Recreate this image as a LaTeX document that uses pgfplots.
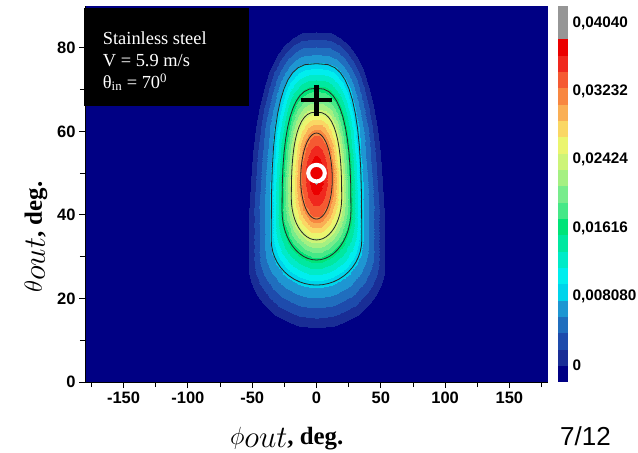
\documentclass[border=0pt]{standalone}
\usepackage{fontspec}
\setmainfont{Liberation Serif}
\newfontfamily\lsans{Liberation Sans}
\usepackage{graphicx}
\usepackage{pgfplots}
\pgfplotsset{compat=1.18}
\usepackage{pgfplotstable}

\definecolor{navybg}{RGB}{0,0,132}
\definecolor{cRed}{RGB}{235,0,0}
\pgfplotsset{colormap={origin}{
 rgb255=(0,0,132)
 rgb255=(25,45,150)
 rgb255=(30,75,172)
 rgb255=(32,110,190)
 rgb255=(30,150,210)
 rgb255=(0,212,235)
 rgb255=(0,238,238)
 rgb255=(0,235,200)
 rgb255=(0,232,160)
 rgb255=(0,228,120)
 rgb255=(70,232,135)
 rgb255=(120,236,140)
 rgb255=(165,240,130)
 rgb255=(205,244,120)
 rgb255=(235,245,110)
 rgb255=(250,215,100)
 rgb255=(250,175,85)
 rgb255=(248,135,65)
 rgb255=(245,90,50)
 rgb255=(240,40,30)
 rgb255=(235,0,0)
 rgb255=(150,150,150)
 rgb255=(150,150,150)
}}

% mesh: one row per direction (0,7.5,...,360 deg); columns: peak, 0.03232, 0.02424, 0.01616, 0.00808, 0
\pgfplotstableread{
x y z
0 49.5 0.0402
12.3 48.5 0.03232
19.6 44 0.02424
26.8 41 0.01616
35.2 34 0.00808
52.7 28 0
0 49.5 0.0402
12.19 49.95 0.03232
19.47 48.30 0.02424
26.62 47.12 0.01616
35.0 44.86 0.00808
52.35 39.66 0
0 49.5 0.0402
11.88 51.37 0.03232
19.08 51.28 0.02424
26.10 51.36 0.01616
34.39 51.14 0.00808
51.31 47.73 0
0 49.5 0.0402
11.36 52.75 0.03232
18.44 53.84 0.02424
25.22 55.0 0.01616
33.39 56.24 0.00808
49.59 54.66 0
0 49.5 0.0402
10.65 54.05 0.03232
17.55 56.09 0.02424
23.99 58.19 0.01616
31.98 60.59 0.00808
47.18 60.74 0
0 49.5 0.0402
9.76 55.26 0.03232
16.40 58.06 0.02424
22.43 61.0 0.01616
30.17 64.31 0.00808
44.11 66.10 0
0 49.5 0.0402
8.70 56.35 0.03232
15.02 59.78 0.02424
20.53 63.45 0.01616
27.94 67.49 0.00808
40.37 70.75 0
0 49.5 0.0402
7.49 57.31 0.03232
13.38 61.24 0.02424
18.30 65.52 0.01616
25.28 70.16 0.00808
35.98 74.70 0
0 49.5 0.0402
6.15 58.11 0.03232
11.50 62.44 0.02424
15.73 67.23 0.01616
22.18 72.34 0.00808
30.92 77.96 0
0 49.5 0.0402
4.71 58.76 0.03232
9.36 63.38 0.02424
12.80 68.57 0.01616
18.55 74.03 0.00808
25.18 80.50 0
0 49.5 0.0402
3.18 59.22 0.03232
6.93 64.06 0.02424
9.48 69.53 0.01616
14.29 75.23 0.00808
18.63 82.33 0
0 49.5 0.0402
1.61 59.50 0.03232
4.10 64.46 0.02424
5.60 70.11 0.01616
9.06 75.96 0.00808
11.01 83.43 0
0 49.5 0.0402
0 59.6 0.03232
0 64.6 0.02424
0 70.3 0.01616
0 76.2 0.00808
0 83.8 0
0 49.5 0.0402
-1.61 59.50 0.03232
-4.10 64.46 0.02424
-5.60 70.11 0.01616
-9.06 75.96 0.00808
-11.01 83.43 0
0 49.5 0.0402
-3.18 59.22 0.03232
-6.93 64.06 0.02424
-9.48 69.53 0.01616
-14.29 75.23 0.00808
-18.63 82.33 0
0 49.5 0.0402
-4.71 58.76 0.03232
-9.36 63.38 0.02424
-12.80 68.57 0.01616
-18.55 74.03 0.00808
-25.18 80.50 0
0 49.5 0.0402
-6.15 58.11 0.03232
-11.50 62.44 0.02424
-15.73 67.23 0.01616
-22.18 72.34 0.00808
-30.92 77.96 0
0 49.5 0.0402
-7.49 57.31 0.03232
-13.38 61.24 0.02424
-18.30 65.52 0.01616
-25.28 70.16 0.00808
-35.98 74.70 0
0 49.5 0.0402
-8.70 56.35 0.03232
-15.02 59.78 0.02424
-20.53 63.45 0.01616
-27.94 67.49 0.00808
-40.37 70.75 0
0 49.5 0.0402
-9.76 55.26 0.03232
-16.40 58.06 0.02424
-22.43 61.0 0.01616
-30.17 64.31 0.00808
-44.11 66.10 0
0 49.5 0.0402
-10.65 54.05 0.03232
-17.55 56.09 0.02424
-23.99 58.19 0.01616
-31.98 60.59 0.00808
-47.18 60.74 0
0 49.5 0.0402
-11.36 52.75 0.03232
-18.44 53.84 0.02424
-25.22 55.0 0.01616
-33.39 56.24 0.00808
-49.59 54.66 0
0 49.5 0.0402
-11.88 51.37 0.03232
-19.08 51.28 0.02424
-26.10 51.36 0.01616
-34.39 51.14 0.00808
-51.31 47.73 0
0 49.5 0.0402
-12.19 49.95 0.03232
-19.47 48.30 0.02424
-26.62 47.12 0.01616
-35.0 44.86 0.00808
-52.35 39.66 0
0 49.5 0.0402
-12.3 48.5 0.03232
-19.6 44 0.02424
-26.8 41 0.01616
-35.2 34 0.00808
-52.7 28 0
0 49.5 0.0402
-12.19 47.26 0.03232
-19.43 42.70 0.02424
-26.57 39.46 0.01616
-34.90 32.59 0.00808
-52.25 26.04 0
0 49.5 0.0402
-11.88 46.04 0.03232
-18.93 41.41 0.02424
-25.89 37.95 0.01616
-34.0 31.2 0.00808
-50.9 24.12 0
0 49.5 0.0402
-11.36 44.86 0.03232
-18.11 40.17 0.02424
-24.76 36.48 0.01616
-32.52 29.87 0.00808
-48.69 22.26 0
0 49.5 0.0402
-10.65 43.75 0.03232
-16.97 39.0 0.02424
-23.21 35.1 0.01616
-30.48 28.6 0.00808
-45.64 20.5 0
0 49.5 0.0402
-9.76 42.72 0.03232
-15.55 37.91 0.02424
-21.26 33.82 0.01616
-27.93 27.43 0.00808
-41.81 18.87 0
0 49.5 0.0402
-8.70 41.78 0.03232
-13.86 36.93 0.02424
-18.95 32.66 0.01616
-24.89 26.36 0.00808
-37.26 17.39 0
0 49.5 0.0402
-7.49 40.96 0.03232
-11.93 36.07 0.02424
-16.31 31.64 0.01616
-21.43 25.43 0.00808
-32.08 16.10 0
0 49.5 0.0402
-6.15 40.27 0.03232
-9.80 35.34 0.02424
-13.4 30.78 0.01616
-17.6 24.65 0.00808
-26.35 15.01 0
0 49.5 0.0402
-4.71 39.72 0.03232
-7.50 34.76 0.02424
-10.26 30.10 0.01616
-13.47 24.02 0.00808
-20.17 14.14 0
0 49.5 0.0402
-3.18 39.32 0.03232
-5.07 34.34 0.02424
-6.94 29.6 0.01616
-9.11 23.57 0.00808
-13.64 13.51 0
0 49.5 0.0402
-1.61 39.08 0.03232
-2.56 34.09 0.02424
-3.50 29.30 0.01616
-4.59 23.29 0.00808
-6.88 13.13 0
0 49.5 0.0402
0 39.0 0.03232
0 34.0 0.02424
0 29.2 0.01616
0 23.2 0.00808
0 13.0 0
0 49.5 0.0402
1.61 39.08 0.03232
2.56 34.09 0.02424
3.50 29.30 0.01616
4.59 23.29 0.00808
6.88 13.13 0
0 49.5 0.0402
3.18 39.32 0.03232
5.07 34.34 0.02424
6.94 29.6 0.01616
9.11 23.57 0.00808
13.64 13.51 0
0 49.5 0.0402
4.71 39.72 0.03232
7.50 34.76 0.02424
10.26 30.10 0.01616
13.47 24.02 0.00808
20.17 14.14 0
0 49.5 0.0402
6.15 40.27 0.03232
9.80 35.34 0.02424
13.4 30.78 0.01616
17.6 24.65 0.00808
26.35 15.01 0
0 49.5 0.0402
7.49 40.96 0.03232
11.93 36.07 0.02424
16.31 31.64 0.01616
21.43 25.43 0.00808
32.08 16.10 0
0 49.5 0.0402
8.70 41.78 0.03232
13.86 36.93 0.02424
18.95 32.66 0.01616
24.89 26.36 0.00808
37.26 17.39 0
0 49.5 0.0402
9.76 42.72 0.03232
15.55 37.91 0.02424
21.26 33.82 0.01616
27.93 27.43 0.00808
41.81 18.87 0
0 49.5 0.0402
10.65 43.75 0.03232
16.97 39.0 0.02424
23.21 35.1 0.01616
30.48 28.6 0.00808
45.64 20.5 0
0 49.5 0.0402
11.36 44.86 0.03232
18.11 40.17 0.02424
24.76 36.48 0.01616
32.52 29.87 0.00808
48.69 22.26 0
0 49.5 0.0402
11.88 46.04 0.03232
18.93 41.41 0.02424
25.89 37.95 0.01616
34.0 31.2 0.00808
50.9 24.12 0
0 49.5 0.0402
12.19 47.26 0.03232
19.43 42.70 0.02424
26.57 39.46 0.01616
34.90 32.59 0.00808
52.25 26.04 0
0 49.5 0.0402
12.3 48.5 0.03232
19.6 44 0.02424
26.8 41 0.01616
35.2 34 0.00808
52.7 28 0
}\meshdata

\newcommand\ticklab{\lsans\bfseries\fontsize{16.5}{18}\selectfont}
\newcommand\cbarlab{\lsans\bfseries\fontsize{15.3}{17}\selectfont}
\newcommand\philab{{\fontsize{24.88}{28}\selectfont$\phi$\raisebox{-3pt}{\scalebox{1.25}{$out$}}\textbf{, deg.}}}
\newcommand\thetalab{{\fontsize{24.88}{28}\selectfont$\theta$\raisebox{-3pt}{\scalebox{1.25}{$out$}}\textbf{, deg.}}}
\newcommand\legfont{\fontsize{18.4}{22}\selectfont}

\begin{document}
\begin{tikzpicture}
\useasboundingbox (0,0) rectangle (638pt,453pt);
\begin{axis}[
  at={(85pt,71pt)}, anchor=south west,
  scale only axis, width=463pt, height=376pt,
  xmin=-180, xmax=180, ymin=0, ymax=90,
  axis x line*=bottom, axis y line*=left,
  axis line style={black, line width=1pt},
  tick align=outside,
  xtick={-150,-100,-50,0,50,100,150},
  minor xtick={-175,-125,-75,-25,25,75,125,175},
  ytick={0,20,40,60,80},
  minor ytick={10,30,50,70},
  major tick length=6pt, minor tick length=5pt,
  tick style={black, line width=0.9pt},
  tick label style={font=\ticklab},
  /pgf/number format/assume math mode=true,
  axis background/.style={fill=navybg},
  colormap name=origin,
  colormap access=piecewise constant,
  point meta min=-0.00202, point meta max=0.04242,
  colorbar,
  colorbar style={
    scale only axis, width=11pt, height=376pt,
    at={(parent axis.north east)}, anchor=north west, xshift=1pt,
    ytick={0,0.00808,0.01616,0.02424,0.03232,0.0404},
    yticklabels={0,{0,008080},{0,01616},{0,02424},{0,03232},{0,04040}},
    scaled y ticks=false,
    major tick length=0pt,
    axis line style={draw=none},
    yticklabel style={font=\cbarlab, xshift=0.5pt},
  },
  xlabel={\philab}, ylabel={\thetalab},
  xlabel style={at={(axis description cs:0.4357,-0.1516)}, anchor=center},
  ylabel style={at={(axis description cs:-0.106,0.385)}, anchor=center},
]
\addplot[surf, shader=interp, mesh/cols=6, point meta=explicit]
  table[x=x, y=y, meta=z] {\meshdata};
\addplot[black!85, line width=0.8pt] table[x=x, y expr={abs(\thisrow{z}-0.03232)<0.0005 ? \thisrow{y} : nan}] {\meshdata};
\addplot[black!85, line width=0.8pt] table[x=x, y expr={abs(\thisrow{z}-0.02424)<0.0005 ? \thisrow{y} : nan}] {\meshdata};
\addplot[black!85, line width=0.8pt] table[x=x, y expr={abs(\thisrow{z}-0.01616)<0.0005 ? \thisrow{y} : nan}] {\meshdata};
\addplot[black!85, line width=0.8pt] table[x=x, y expr={abs(\thisrow{z}-0.00808)<0.0005 ? \thisrow{y} : nan}] {\meshdata};
\addplot[only marks, mark=+, mark size=15.5pt, mark options={line width=4.3pt, black}] coordinates {(0,67.5)};
\addplot[only marks, mark=*, mark size=8.3pt, mark options={draw=white, fill=cRed, line width=4pt}] coordinates {(0,50)};
\end{axis}
\fill[black] (84pt,347pt) rectangle (249.3pt,444.7pt);
\node[anchor=base west, text=white, font=\legfont, inner sep=0pt] at (102.7pt,408pt) {Stainless steel};
\node[anchor=base west, text=white, font=\legfont, inner sep=0pt] at (102.7pt,386.3pt) {V = 5.9 m/s};
\node[anchor=base west, text=white, font=\legfont, inner sep=0pt] at (102.7pt,364.7pt) {θ\textsubscript{in} = 70\textsuperscript{0}};
\node[anchor=base, font=\lsans\fontsize{26}{28}\selectfont, inner sep=0pt] at (585.5pt,7pt) {7/12};
\end{tikzpicture}
\end{document}
